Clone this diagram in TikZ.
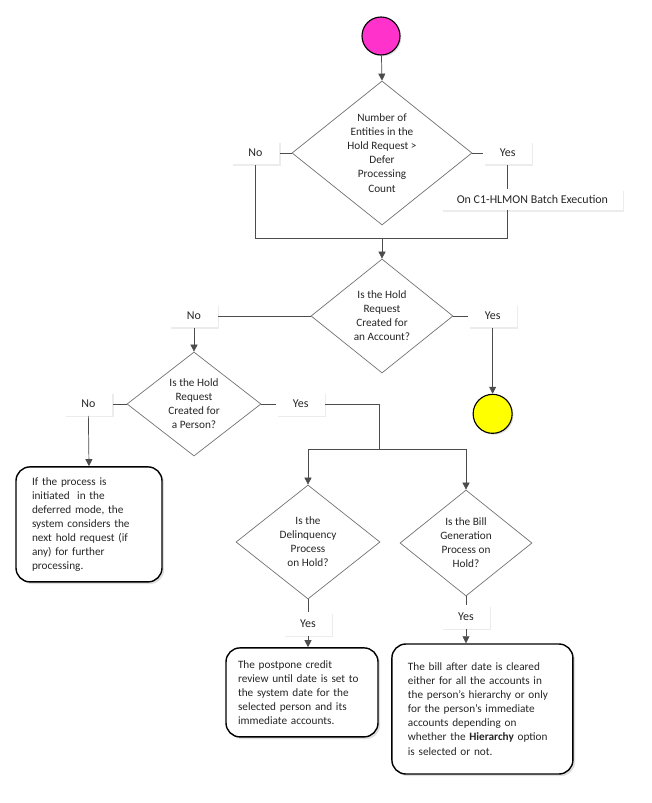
\documentclass[tikz,border=0pt]{standalone}
\usepackage{fontspec}
\setmainfont{Carlito}
\usepackage{xcolor}
\usepackage{tikz}
\usetikzlibrary{shapes.geometric, arrows.meta, positioning, calc, shadows}

\definecolor{startpink}{HTML}{FF33CC}
\definecolor{stopyellow}{HTML}{FFFF00}

\begin{document}
\begin{tikzpicture}[
    font=\fontsize{8}{10}\selectfont,
    >={Triangle[length=5pt,width=5pt]},
    % Node styles
    termnode/.style={circle, draw=black, line width=0.8pt, minimum size=0.95cm, inner sep=0pt, drop shadow={shadow xshift=1pt, shadow yshift=-1pt, fill=black!25}},
    decision/.style={diamond, draw=black!55, line width=0.5pt, inner sep=0pt, fill=white},
    dtext/.style={align=center, text=black!85, inner sep=0pt},
    lblbox/.style={fill=white, minimum width=1.2cm, minimum height=0.575cm, inner sep=2pt, text=black!85, font=\fontsize{8.5}{10}\selectfont, drop shadow={shadow xshift=1pt, shadow yshift=-1pt, fill=black!15}},
    notebox/.style={draw=black, line width=1pt, rounded corners=0.35cm, fill=white, align=left, inner xsep=0.4cm, text=black!85, drop shadow={shadow xshift=1.5pt, shadow yshift=-1.5pt, fill=black!25}},
    conn/.style={draw=black!70, line width=0.5pt},
    arrow/.style={conn, ->}
]
\useasboundingbox (0,0) rectangle (16.275,-20.075);

% ========== START ==========
\node[termnode, fill=startpink] (start) at (9.525,-0.9) {};

% ========== DECISION 1: Defer count ==========
\node[decision, minimum width=4.5cm, minimum height=3.6cm] (d1) at (9.55,-3.825) {};
\node[dtext] (d1txt) at (d1) {Number of\\Entities in the\\Hold Request >\\Defer\\Processing\\Count};
\node[lblbox, left=0.3cm of d1.west] (no1) {No};
\node[lblbox, right=0.275cm of d1.east] (yes1) {Yes};
\node[lblbox, minimum width=4.525cm, minimum height=0.525cm] (batch) at (13.31,-4.99) {On C1-HLMON Batch Execution};
\coordinate (join1) at (9.55,-5.95);

% ========== DECISION 2: Account ==========
\node[decision, minimum width=3.55cm, minimum height=2.85cm] (d2) at (9.55,-7.9) {};
\node[dtext] (d2txt) at (d2) {Is the Hold\\Request\\Created for\\an Account?};
\node[lblbox] (no2) at (4.85,-7.9) {No};
\node[lblbox, right=0.375cm of d2.east] (yes2) {Yes};
\node[termnode, fill=stopyellow, minimum size=0.975cm, below=1.65cm of yes2] (stop) {};

% ========== DECISION 3: Person ==========
\node[decision, minimum width=3.35cm, minimum height=2.6cm] (d3) at (4.85,-10.1) {};
\node[dtext] (d3txt) at (d3) {Is the Hold\\Request\\Created for\\a Person?};
\node[lblbox, left=0.35cm of d3.west] (no3) {No};
\node[lblbox, right=0.375cm of d3.east] (yes3) {Yes};
\coordinate (split) at (9.475,-11.225);

\node[notebox, text width=2.85cm, minimum width=3.65cm, minimum height=2.875cm] (note1) at (2.225,-13.11) {If the process is\\initiated\ \ in the\\deferred mode, the\\system considers the\\next hold request (if\\any) for further\\processing.};

% ========== DECISIONS 4 and 5 ==========
\node[decision, minimum width=3.6cm, minimum height=2.85cm] (d4) at (7.7,-13.55) {};
\node[dtext] (d4txt) at (d4) {Is the\\Delinquency\\Process\\on Hold?};
\node[lblbox, below=0.325cm of d4.south] (yes4) {Yes};

\node[decision, minimum width=3.3cm, minimum height=2.65cm] (d5) at (11.65,-13.575) {};
\node[dtext] (d5txt) at (d5) {Is the Bill\\Generation\\Process on\\Hold?};
\node[lblbox, below=0.225cm of d5.south] (yes5) {Yes};

\node[notebox, text width=3.2cm, inner xsep=0.3cm, minimum width=3.8cm, minimum height=2.225cm] (note2) at (7.55,-17.31) {The postpone credit\\review until date is set to\\the system date for the\\selected person and its\\immediate accounts.};
\node[notebox, text width=3.725cm, minimum width=4.525cm, minimum height=3.25cm] (note3) at (12.06,-17.725) {The bill after date is cleared\\either for all the accounts in\\the person’s hierarchy or only\\for the person’s immediate\\accounts depending on\\whether the \textbf{Hierarchy} option\\is selected or not.};

% ========== CONNECTORS ==========
\draw[arrow] (start) -- (d1.north);
\draw[conn] (d1.west) -- (no1.east);
\draw[conn] (d1.east) -- (yes1.west);
\draw[conn] (no1.south) |- (join1);
\draw[conn] (yes1.south) -- (yes1.south |- batch.north);
\draw[conn] (batch.south -| yes1.south) |- (join1);
\draw[arrow] (join1) -- (d2.north);

\draw[conn] (d2.west) -- (no2.east);
\draw[conn] (d2.east) -- (yes2.west);
\draw[arrow] (yes2.south) -- (stop.north);
\draw[arrow] (no2.south) -- (d3.north);

\draw[conn] (d3.west) -- (no3.east);
\draw[conn] (d3.east) -- (yes3.west);
\draw[arrow] (no3.south) -- (note1.north);
\draw[conn] (yes3.east) -| (split);
\draw[arrow] (split) -| (d4.north);
\draw[arrow] (split) -| (d5.north);

\draw[conn] (d4.south) -- (yes4.north);
\draw[arrow] (yes4.south) -- (yes4.south |- note2.north);
\draw[conn] (d5.south) -- (yes5.north);
\draw[arrow] (yes5.south) -- (yes5.south |- note3.north);

\end{tikzpicture}
\end{document}
